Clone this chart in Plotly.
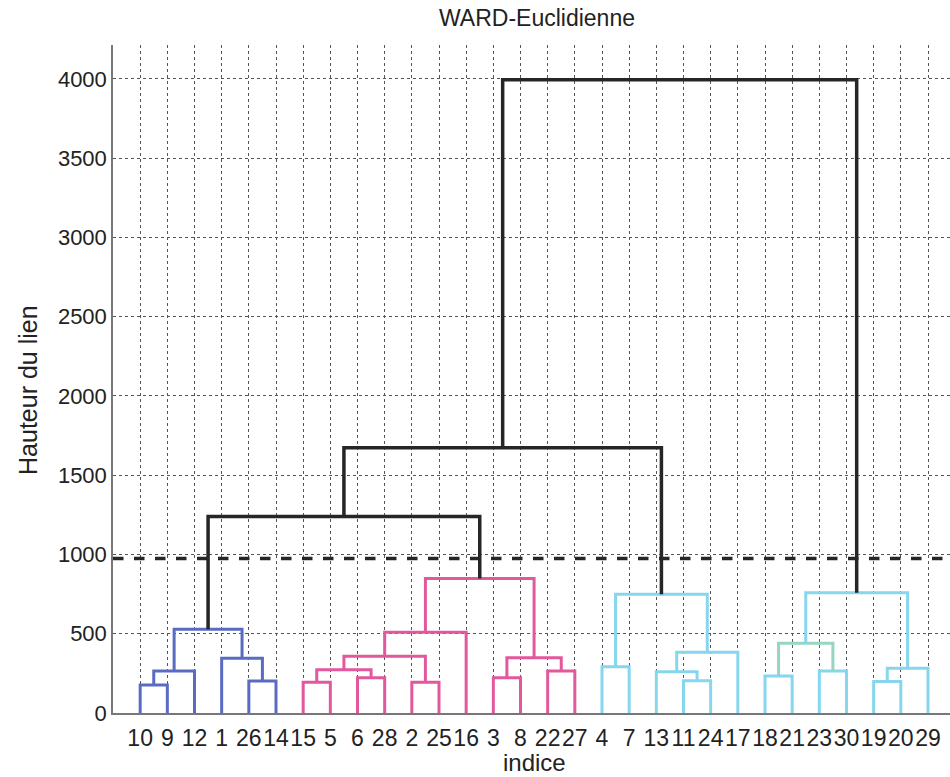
import plotly.graph_objects as go

# Leaf labels in dendrogram order (left to right)
leaf_order = [10, 9, 12, 1, 26, 14,
              15, 5, 6, 28, 2, 25, 16, 3, 8, 22, 27,
              4, 7, 13, 11, 24, 17,
              18, 21, 23, 30, 19, 20, 29]

# Merge table: children are leaf labels (int) or previous merge ids ("m<k>")
merge_left = [10, "m0", 26, 1, "m1",
              15, 6, "m5", 2, "m7", "m9", 3, 22, "m11", "m10",
              4, 11, 13, "m17", "m15",
              18, 23, "m20", 19, "m23", "m22",
              "m4", "m26", "m27"]
merge_right = [9, 12, 14, "m2", "m3",
               5, 28, "m6", 25, "m8", 16, 8, 27, "m12", "m13",
               7, 24, "m16", 17, "m18",
               21, 30, "m21", 20, 29, "m24",
               "m14", "m19", "m25"]
merge_height = [177, 265, 202, 345, 528,
                194, 222, 273, 194, 358, 509, 222, 265, 349, 848,
                292, 204, 261, 383, 749,
                233, 265, 440, 198, 282, 759,
                1239, 1674, 3995]
merge_group = ["blue"] * 5 + ["pink"] * 10 + ["cyan"] * 5 + \
              ["cyan"] * 2 + ["teal"] + ["cyan"] * 3 + ["black"] * 3

cut_height = 975
y_ticks = [0, 500, 1000, 1500, 2000, 2500, 3000, 3500, 4000]

group_colors = {
    "blue": "#5a6cc2",
    "pink": "#e2589c",
    "cyan": "#86d6ee",
    "teal": "#96d6c0",
    "black": "#262626",
}

# Resolve node positions (x = leaf index, y = link height)
leaf_pos = {lab: i + 1 for i, lab in enumerate(leaf_order)}
node_x, node_y = {}, {}


def pos(node):
    if isinstance(node, str):
        return node_x[node], node_y[node]
    return leaf_pos[node], 0.0


fig = go.Figure()
for k, (l, r, h, g) in enumerate(zip(merge_left, merge_right, merge_height, merge_group)):
    xl, yl = pos(l)
    xr, yr = pos(r)
    node_x["m%d" % k] = (xl + xr) / 2
    node_y["m%d" % k] = h
    fig.add_trace(go.Scatter(
        x=[xl, xl, xr, xr], y=[yl, h, h, yr],
        mode="lines",
        line=dict(color=group_colors[g], width=3.5 if g == "black" else 3),
        hoverinfo="skip", showlegend=False,
    ))

# Cut-off line
fig.add_trace(go.Scatter(
    x=[0, 31], y=[cut_height, cut_height], mode="lines",
    line=dict(color="#262626", width=3.5, dash="dash"),
    hoverinfo="skip", showlegend=False,
))

fig.update_layout(
    width=950, height=777,
    margin=dict(l=113, r=0, t=45, b=64),
    paper_bgcolor="white", plot_bgcolor="white",
    font=dict(family="Liberation Sans, Arial, sans-serif", color="#222222", size=22),
    xaxis=dict(
        range=[0, 30.81],
        tickmode="array",
        tickvals=list(range(1, len(leaf_order) + 1)),
        ticktext=[str(v) for v in leaf_order],
        tickangle=0,
        ticklabelstandoff=4,
        showgrid=True, gridcolor="#555555", griddash="dot", gridwidth=1,
        showline=True, linecolor="#777777", linewidth=1.5,
        ticks="", zeroline=False,
        tickfont=dict(size=23),
    ),
    yaxis=dict(
        range=[0, 4214],
        tickmode="array", tickvals=y_ticks,
        ticktext=[str(v) for v in y_ticks],
        showgrid=True, gridcolor="#555555", griddash="dot", gridwidth=1,
        showline=True, linecolor="#777777", linewidth=1.5,
        ticks="", zeroline=False,
        tickfont=dict(size=22),
    ),
    annotations=[
        dict(text="WARD-Euclidienne", xref="paper", yref="paper",
             x=0.5066, y=1.0404, xanchor="center", yanchor="middle",
             showarrow=False, font=dict(size=23)),
        dict(text="Hauteur du lien", xref="paper", yref="paper",
             x=-0.1016, y=0.4835, xanchor="center", yanchor="middle",
             textangle=-90, showarrow=False, font=dict(size=25)),
        dict(text="indice", xref="paper", yref="paper",
             x=0.504, y=-0.0734, xanchor="center", yanchor="middle",
             showarrow=False, font=dict(size=24)),
    ],
)

fig.write_html("out.html")
